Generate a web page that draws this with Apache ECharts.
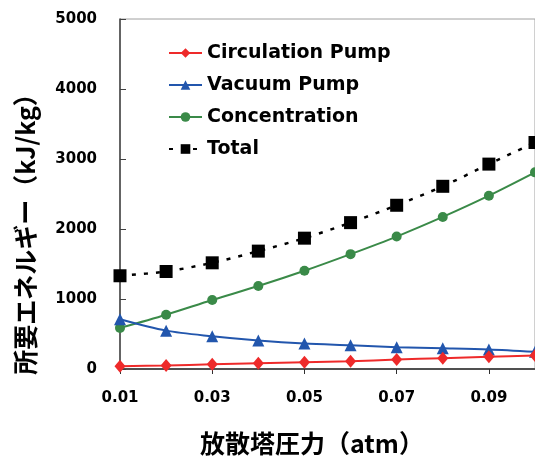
<!DOCTYPE html>
<html>
<head>
<meta charset="utf-8">
<script src="https://cdn.jsdelivr.net/npm/echarts@6/dist/echarts.min.js"></script>
<style>
html,body{margin:0;padding:0;background:#fff;}
#chart{width:535px;height:459px;}
</style>
</head>
<body>
<div id="chart"></div>
<script>
var pressures = ['0.01','0.02','0.03','0.04','0.05','0.06','0.07','0.08','0.09','0.10'];
var circulationPump = [40, 50, 68, 83, 97, 110, 135, 154, 174, 192];
var vacuumPump = [710, 548, 467, 406, 363, 338, 311, 296, 278, 245];
var concentration = [587, 776, 986, 1185, 1403, 1641, 1892, 2172, 2476, 2809];
var total = [1332, 1393, 1517, 1684, 1869, 2091, 2339, 2610, 2927, 3236];
var yTicks = [0, 1000, 2000, 3000, 4000, 5000];

var chart = echarts.init(document.getElementById('chart'), null, {renderer:'canvas'});
var tickFont = {fontFamily:'DejaVu Sans', fontWeight:'bold', fontSize:15, color:'#000'};
var option = {
  animation:false,
  backgroundColor:'#fff',
  grid:{left:120, right:0, top:19, bottom:90, show:true, borderColor:'#a0a0a0', borderWidth:1, backgroundColor:'transparent'},
  legend:{
    left:163, top:38, orient:'vertical', itemWidth:33, itemHeight:12, itemGap:12,
    textStyle:{fontFamily:'DejaVu Sans', fontWeight:'bold', fontSize:19, lineHeight:20, color:'#000'},
    data:['Circulation Pump','Vacuum Pump','Concentration','Total']
  },
  xAxis:{
    type:'category', data:pressures, boundaryGap:false,
    axisLine:{lineStyle:{color:'#505050', width:2}},
    axisTick:{show:true, interval:1, length:5, inside:false, lineStyle:{color:'#303030', width:1}},
    axisLabel:Object.assign({interval:1, margin:22}, tickFont),
    splitLine:{show:false}
  },
  yAxis:{
    type:'value', min:yTicks[0], max:yTicks[yTicks.length-1], interval:1000,
    axisLine:{show:true, lineStyle:{color:'#404040', width:1.5}},
    axisTick:{show:true, inside:true, length:6, lineStyle:{color:'#404040'}},
    axisLabel:Object.assign({margin:23, formatter:function(v){return String(v);}}, tickFont),
    splitLine:{show:false}
  },
  graphic:[
    {type:'text', x:312, y:443, style:{text:'放散塔圧力（atm）', x:0, y:0, align:'center', verticalAlign:'middle',
      font:'bold 25px "Noto Sans CJK JP"', fill:'#000'}},
    {type:'text', rotation:Math.PI/2, x:25, y:228, style:{text:'所要エネルギー（kJ/kg）', x:0, y:0, align:'center', verticalAlign:'middle',
      font:'bold 25px "Noto Sans CJK JP"', fill:'#000'}}
  ],
  series:[
    {name:'Circulation Pump', type:'line', data:circulationPump, smooth:0.3, symbol:'diamond', symbolSize:[11,13],
      lineStyle:{color:'#ee2a2a', width:2}, itemStyle:{color:'#ee2a2a'}, z:4},
    {name:'Vacuum Pump', type:'line', data:vacuumPump, smooth:0.3, symbol:'triangle', symbolSize:12,
      lineStyle:{color:'#2256ad', width:2}, itemStyle:{color:'#2256ad'}, z:3},
    {name:'Concentration', type:'line', data:concentration, smooth:0.3, symbol:'circle', symbolSize:10,
      lineStyle:{color:'#3a8a48', width:2}, itemStyle:{color:'#3a8a48'}, z:2},
    {name:'Total', type:'line', data:total, smooth:0.3, symbol:'rect', symbolSize:13,
      lineStyle:{color:'#000', width:2.5, type:[4,8]}, itemStyle:{color:'#000'}, z:5}
  ]
};
chart.setOption(option);
</script>
</body>
</html>
